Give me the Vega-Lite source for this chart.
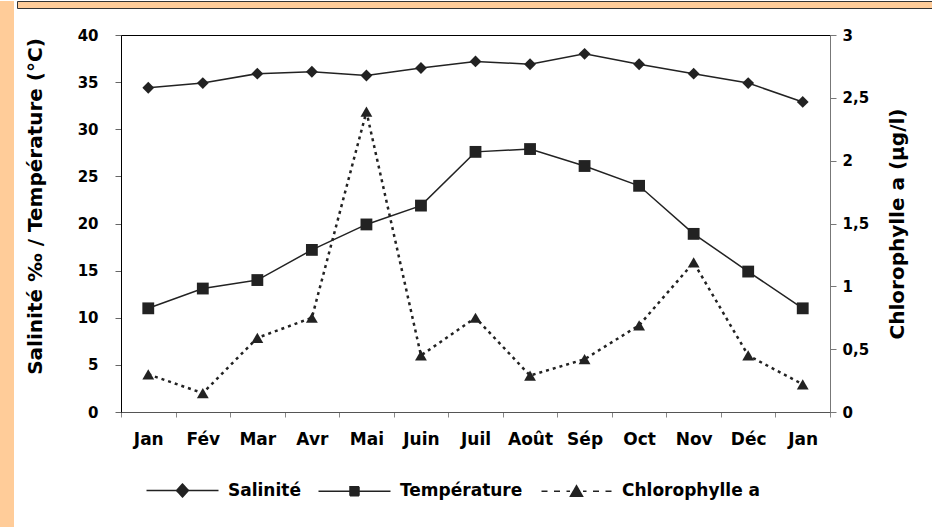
{
  "$schema": "https://vega.github.io/schema/vega-lite/v6.json",
  "padding": 0,
  "background": "#ffffff",
  "spacing": 0,
  "config": {
    "font": "DejaVu Sans",
    "view": {"stroke": null},
    "axis": {"labelFont": "DejaVu Sans", "titleFont": "DejaVu Sans", "labelFontWeight": "bold", "titleFontWeight": "bold", "labelColor": "#000", "titleColor": "#000", "grid": false},
    "legend": {"labelFont": "DejaVu Sans", "labelFontWeight": "bold", "labelColor": "#000"}
  },
  "hconcat": [
    {
      "width": 14, "height": 527,
      "view": {"fill": "#FFCC99", "stroke": null},
      "data": {"values": [{"a": 1}]},
      "mark": {"type": "point", "opacity": 0},
      "encoding": {}
    },
    {
      "spacing": 18,
      "vconcat": [
        {
          "width": 918, "height": 7,
          "view": {"fill": "#FFCC99", "stroke": "#333"},
          "data": {"values": [{"a": 1}]},
          "mark": {"type": "point", "opacity": 0},
          "encoding": {}
        },
        {
          "spacing": 0,
          "hconcat": [
            {
              "width": 1, "height": 377,
              "view": {"stroke": null},
              "data": {"values": [{"a": 1}]},
              "mark": {"type": "point", "opacity": 0},
              "encoding": {}
            },
            {
              "width": 709, "height": 377,
              "view": {"stroke": "#000", "strokeWidth": 1},
              "data": {"values": [
                {"i": 0, "Salinité": 34.4, "Température": 11.0, "Chl": 0.30},
                {"i": 1, "Salinité": 34.9, "Température": 13.1, "Chl": 0.15},
                {"i": 2, "Salinité": 35.9, "Température": 14.0, "Chl": 0.59},
                {"i": 3, "Salinité": 36.1, "Température": 17.2, "Chl": 0.75},
                {"i": 4, "Salinité": 35.7, "Température": 19.9, "Chl": 2.39},
                {"i": 5, "Salinité": 36.5, "Température": 21.9, "Chl": 0.45},
                {"i": 6, "Salinité": 37.2, "Température": 27.6, "Chl": 0.75},
                {"i": 7, "Salinité": 36.9, "Température": 27.9, "Chl": 0.29},
                {"i": 8, "Salinité": 38.0, "Température": 26.1, "Chl": 0.42},
                {"i": 9, "Salinité": 36.9, "Température": 24.0, "Chl": 0.69},
                {"i": 10, "Salinité": 35.9, "Température": 18.9, "Chl": 1.19},
                {"i": 11, "Salinité": 34.9, "Température": 14.9, "Chl": 0.45},
                {"i": 12, "Salinité": 32.9, "Température": 11.0, "Chl": 0.22}
              ]},
              "layer": [
                {
                  "transform": [{"fold": ["Salinité", "Température"], "as": ["series", "value"]}],
                  "layer": [
                    {
                      "mark": {"type": "line", "strokeWidth": 1.5},
                      "encoding": {
                        "x": {
                          "field": "i", "type": "ordinal",
                          "scale": {"type": "band", "paddingInner": 0, "paddingOuter": 0},
                          "bandPosition": 0.5,
                          "axis": {
                            "title": null,
                            "labelExpr": "['Jan','Fév','Mar','Avr','Mai','Juin','Juil','Août','Sép','Oct','Nov','Déc','Jan'][datum.value]",
                            "labelAngle": 0, "labelFontSize": 17, "labelPadding": 14,
                            "tickBand": "extent", "tickSize": 5, "tickColor": "#888", "domainColor": "#555"
                          }
                        },
                        "y": {
                          "field": "value", "type": "quantitative",
                          "scale": {"domain": [0, 40], "nice": false},
                          "axis": {
                            "title": ["", "Salinité ‰ / Température (°C)"],
                            "values": [0, 5, 10, 15, 20, 25, 30, 35, 40],
                            "labelFontSize": 15, "titleFontSize": 20,
                            "tickSize": 6, "labelPadding": 17, "titlePadding": 32,
                            "titleLineHeight": 3, "titleY": 171,
                            "domainColor": "#000", "tickColor": "#666"
                          }
                        },
                        "color": {
                          "field": "series", "type": "nominal",
                          "scale": {"domain": ["Salinité", "Température", "Chlorophylle a"], "range": ["#222", "#222", "#222"]},
                          "legend": {
                            "orient": "none", "legendX": 143, "legendY": 481,
                            "direction": "horizontal", "title": null,
                            "labelFontSize": 17, "symbolSize": 100, "symbolOffset": 0, "labelOffset": 68,
                            "columnPadding": 14, "symbolStrokeWidth": 1.5,
                            "encode": {
                              "symbols": {
                                "update": {
                                  "shape": {"signal": "datum.value === 'Salinité' ? 'M-1,0H13.4M6.2,-1.3L7.4,0L6.2,1.3L5,0Z' : datum.value === 'Température' ? 'M-1,0H13.4M5.3,-0.9H7.1V0.9H5.3Z' : 'M-0.8,0H0.4M1.7,0H2.9M4.2,0H4.9M7.5,0H8.2M9.5,0H10.7M12,0H13.2M6.2,-1.1L7.4,1L5,1Z'"},
                                  "fill": {"value": "#222"},
                                  "stroke": {"value": "#222"},
                                  "strokeWidth": {"value": 1.5},
                                  "strokeDash": {"value": [1, 0]},
                                  "opacity": {"value": 1}
                                }
                              }
                            }
                          }
                        }
                      }
                    },
                    {
                      "mark": {"type": "point", "filled": true, "opacity": 1, "color": "#222", "size": 140},
                      "encoding": {
                        "x": {"field": "i", "type": "ordinal", "bandPosition": 0.5},
                        "y": {"field": "value", "type": "quantitative"},
                        "shape": {"field": "series", "type": "nominal", "scale": {"domain": ["Salinité", "Température"], "range": ["diamond", "square"]}, "legend": null}
                      }
                    }
                  ]
                },
                {
                  "layer": [
                    {
                      "mark": {"type": "line", "strokeWidth": 2.5, "strokeDash": [3, 4]},
                      "encoding": {
                        "x": {"field": "i", "type": "ordinal", "bandPosition": 0.5},
                        "y": {
                          "field": "Chl", "type": "quantitative",
                          "scale": {"domain": [0, 3], "nice": false},
                          "axis": {
                            "orient": "right", "title": "Chlorophylle a (µg/l)",
                            "values": [0, 0.5, 1, 1.5, 2, 2.5, 3],
                            "labelExpr": "replace(toString(datum.value), '.', ',')",
                            "labelFontSize": 15, "titleFontSize": 20,
                            "tickSize": 6, "labelPadding": 6, "titlePadding": 19,
                            "titleAngle": 270, "titleBaseline": "top",
                            "domainColor": "#777", "tickColor": "#777"
                          }
                        },
                        "color": {"datum": "Chlorophylle a", "type": "nominal"}
                      }
                    },
                    {
                      "mark": {"type": "point", "filled": true, "opacity": 1, "color": "#222", "size": 140, "shape": "triangle-up"},
                      "encoding": {
                        "x": {"field": "i", "type": "ordinal", "bandPosition": 0.5},
                        "y": {"field": "Chl", "type": "quantitative"}
                      }
                    }
                  ]
                }
              ],
              "resolve": {"scale": {"y": "independent"}}
            }
          ]
        }
      ]
    }
  ]
}
